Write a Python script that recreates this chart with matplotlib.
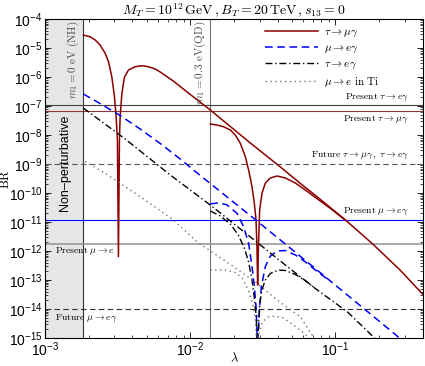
import matplotlib
matplotlib.use('Agg')
import matplotlib.pyplot as plt
from matplotlib.ticker import LogLocator, NullFormatter

plt.rcParams['mathtext.fontset'] = 'cm'
plt.rcParams['font.family'] = ['Liberation Sans', 'DejaVu Sans']

# lambda positions of the two reference lines
lam_nh = 0.00183
lam_qd = 0.01374

# tau -> mu gamma, NH branch (m1 = 0)
lam_tmg1 = [0.001836, 0.002042, 0.002213, 0.002394, 0.002594, 0.002734, 0.002884, 0.003006,
            0.003088, 0.00315, 0.003202, 0.003253, 0.00329, 0.003381, 0.003524, 0.003753,
            0.004176, 0.004645, 0.005158, 0.005736, 0.006211, 0.007634, 0.01, 0.01374,
            0.02593, 0.04176, 0.05736, 0.0788, 0.1173, 0.1828, 0.2805, 0.4046]
br_tmg1 = [2.8e-5, 2.45e-5, 1.9e-5, 1.27e-5, 6.6e-6, 3.4e-6, 1.0e-6, 2.1e-7,
           4.3e-8, 6.7e-9, 6.4e-13, 6.7e-9, 4.3e-8, 2.7e-7, 1.0e-6, 1.74e-6,
           2.27e-6, 2.45e-6, 2.27e-6, 1.89e-6, 1.49e-6, 7.3e-7, 2.5e-7, 7.3e-8,
           5.3e-9, 7.9e-10, 2.13e-10, 6.0e-11, 1.17e-11, 1.65e-12, 2.13e-13, 3.0e-14]

# tau -> mu gamma, QD branch
lam_tmg2 = [0.01374, 0.01528, 0.01697, 0.01888, 0.02043, 0.02212, 0.02395, 0.02523,
            0.02663, 0.02763, 0.02838, 0.02884, 0.02911, 0.02944, 0.03006, 0.03122,
            0.03289, 0.03561, 0.03963, 0.04519, 0.05297, 0.06209, 0.07278, 0.09237, 0.1173]
br_tmg2 = [2.39e-8, 2.21e-8, 1.93e-8, 1.49e-8, 1.0e-8, 5.2e-9, 1.79e-9, 6.2e-10,
           1.65e-10, 4.4e-11, 1.17e-11, 1.08e-12, 6.7e-14, 1.08e-12, 2.6e-11, 1.0e-10,
           2.2e-10, 3.3e-10, 3.86e-10, 3.3e-10, 2.2e-10, 1.27e-10, 7.0e-11, 2.92e-11, 1.15e-11]

# mu -> e gamma
lam_meg1 = [0.001836, 0.002394, 0.00329, 0.00452, 0.006211, 0.008531, 0.01172, 0.01374,
            0.0272, 0.04176, 0.07047, 0.1211, 0.2512, 0.2805]
br_meg1 = [2.6e-7, 1.22e-7, 4.7e-8, 1.61e-8, 5.1e-9, 1.49e-9, 4.0e-10, 2.13e-10,
           1.37e-11, 2.39e-12, 2.81e-13, 3.0e-14, 1.49e-15, 9.3e-16]
lam_meg2 = [0.01374, 0.01567, 0.01791, 0.02099, 0.02331, 0.02523, 0.02663, 0.02763,
            0.02852, 0.02895, 0.02958, 0.03006, 0.03088, 0.03289, 0.03561, 0.03963,
            0.04519, 0.05297, 0.06209, 0.07278, 0.09237]
br_meg2 = [4.2e-11, 4.6e-11, 3.9e-11, 2.0e-11, 6.9e-12, 1.84e-12, 2.9e-13, 5.9e-14,
           9.2e-15, 5e-16, 2.45e-15, 1.2e-14, 5.9e-14, 2.9e-13, 6.7e-13, 1.0e-12,
           1.04e-12, 7.3e-13, 4.2e-13, 2.2e-13, 8.9e-14]

# tau -> e gamma
lam_teg1 = [0.001836, 0.003562, 0.007278, 0.01374, 0.02395, 0.04176, 0.07047, 0.1211,
            0.1799, 0.1919]
br_teg1 = [8.5e-8, 7.3e-9, 4.2e-10, 3.86e-11, 4.2e-12, 4.5e-13, 5.7e-14, 7.9e-15,
           1.17e-15, 8.5e-16]
lam_teg2 = [0.01374, 0.0161, 0.01888, 0.02143, 0.02357, 0.02523, 0.02663, 0.02763,
            0.02852, 0.02895, 0.02958, 0.03006, 0.03112, 0.03289, 0.03561, 0.04046,
            0.04519, 0.05297, 0.06209, 0.07278]
br_teg2 = [2.4e-11, 1.61e-11, 8.5e-12, 3.56e-12, 1.27e-12, 4.2e-13, 1.0e-13, 2.4e-14,
           4.9e-15, 3e-16, 3.56e-15, 1.37e-14, 4.5e-14, 1.0e-13, 1.68e-13, 2.2e-13,
           2.13e-13, 1.55e-13, 9.6e-14, 5.1e-14]

# mu -> e conversion in Ti
lam_mec1 = [0.001888, 0.002594, 0.00452, 0.00767, 0.01112, 0.01989, 0.02884, 0.03963,
            0.05736, 0.07047, 0.0728]
br_mec1 = [1.22e-9, 4.8e-10, 7.5e-11, 1.17e-11, 2.09e-12, 2.88e-13, 7.7e-14, 2.04e-14,
           5.4e-15, 1.08e-15, 8e-16]
lam_mec2 = [0.01374, 0.01743, 0.02043, 0.02284, 0.02512, 0.02677, 0.02807, 0.02895,
            0.02968, 0.03137, 0.03451, 0.03853, 0.04375, 0.05131, 0.0601, 0.06831]
br_mec2 = [2.2e-13, 2.2e-13, 1.81e-13, 1.17e-13, 4.5e-14, 1.61e-14, 4.2e-15, 3e-16,
           1.37e-15, 3.56e-15, 5.3e-15, 5.7e-15, 4.9e-15, 2.81e-15, 1.49e-15, 8.5e-16]

# experimental bounds
bound_teg = 1.1e-7
bound_tmg = 6.8e-8
bound_tau_future = 1e-9
bound_meg = 1.2e-11
bound_mec = 1.7e-12
bound_meg_future = 1e-14

red = '#8b0000'
blue = '#0000ff'

fig = plt.figure(figsize=(4.25, 3.66), dpi=100)
ax = fig.add_axes([0.106, 0.0765, 0.889, 0.8715])
ax.set_xscale('log')
ax.set_yscale('log')
ax.set_xlim(1e-3, 0.4)
ax.set_ylim(1e-15, 1e-4)

ax.axvspan(1e-3, lam_nh, color='0.9', lw=0, zorder=0)
ax.axvline(lam_nh, color='0.2', lw=0.8)
ax.axvline(lam_qd, color='0.45', lw=0.8)

ax.axhline(bound_teg, color='0.25', lw=0.8)
ax.axhline(bound_tmg, color='#8b3a3a', lw=0.8)
ax.axhline(bound_tau_future, color='0.35', lw=0.8, dashes=(5, 3))
ax.axhline(bound_meg, color=blue, lw=0.8)
ax.axhline(bound_mec, color='0.6', lw=1.2)
ax.axhline(bound_meg_future, color='0.2', lw=0.8, dashes=(5, 3))

l1, = ax.plot(lam_tmg1, br_tmg1, color=red, lw=1.1)
ax.plot(lam_tmg2, br_tmg2, color=red, lw=1.1)
l2, = ax.plot(lam_meg1, br_meg1, color=blue, lw=1.1, dashes=(5, 3))
ax.plot(lam_meg2, br_meg2, color=blue, lw=1.1, dashes=(5, 3))
l3, = ax.plot(lam_teg1, br_teg1, color='k', lw=1.0, dashes=(5, 2, 1, 2))
ax.plot(lam_teg2, br_teg2, color='k', lw=1.0, dashes=(5, 2, 1, 2))
l4, = ax.plot(lam_mec1, br_mec1, color='0.45', lw=1.0, dashes=(1, 2.5))
ax.plot(lam_mec2, br_mec2, color='0.45', lw=1.0, dashes=(1, 2.5))

ax.legend([l1, l2, l3, l4],
          [r'$\tau\to\mu\gamma$', r'$\mu\to e\gamma$', r'$\tau\to e\gamma$',
           r'$\mu\to e\ {\rm in\ Ti}$'],
          loc='upper left', bbox_to_anchor=(0.582, 0.975), frameon=False, borderpad=0,
          borderaxespad=0, fontsize=8, handlelength=4.8, labelspacing=0.32,
          handletextpad=0.5)

tfs = 7
yt = ax.get_yaxis_transform()
ax.text(0.963, 1.3e-7, r'${\rm Present}\ \tau\to e\gamma$', transform=yt,
        ha='right', va='bottom', fontsize=tfs)
ax.text(0.963, 5.5e-8, r'${\rm Present}\ \tau\to \mu\gamma$', transform=yt,
        ha='right', va='top', fontsize=tfs)
ax.text(0.963, 1.25e-9, r'${\rm Future}\ \tau\to\mu\gamma\,,\ \tau\to e\gamma$',
        transform=yt, ha='right', va='bottom', fontsize=tfs)
ax.text(0.963, 1.45e-11, r'${\rm Present}\ \mu\to e\gamma$', transform=yt,
        ha='right', va='bottom', fontsize=tfs)
ax.text(0.026, 1.0e-12, r'${\rm Present}\ \mu\to e$', transform=yt,
        ha='left', va='center', fontsize=tfs)
ax.text(0.026, 5.0e-15, r'${\rm Future}\ \mu\to e\gamma$', transform=yt,
        ha='left', va='center', fontsize=tfs)

ax.text(0.00176, 9e-5, r'$m_1 = 0\ {\rm eV\ (NH)}$', rotation=90, ha='right', va='top',
        fontsize=8, color='0.3')
ax.text(0.0132, 9e-5, r'$m_1 = 0.3\ {\rm eV (QD)}$', rotation=90, ha='right', va='top',
        fontsize=8, color='0.3')
ax.text(0.00137, 1.1e-9, 'Non\u2013perturbative', rotation=90, ha='center', va='center',
        fontsize=9)

ax.set_title(r'$M_T = 10^{12}\,{\rm GeV}\,, B_T = 20\,{\rm TeV}\,, s_{13} = 0$',
             fontsize=10, pad=2)
ax.set_xlabel(r'$\lambda$', fontsize=9, labelpad=-5)
ax.set_ylabel(r'${\rm BR}$', fontsize=9)
ax.yaxis.set_label_coords(-0.088, 0.5)

ax.yaxis.set_major_locator(LogLocator(base=10, numticks=20))
ax.yaxis.set_minor_locator(LogLocator(base=10, subs=range(2, 10), numticks=20))
ax.yaxis.set_minor_formatter(NullFormatter())
ax.tick_params(which='both', direction='in', top=True, right=True, labelsize=10, pad=2)
ax.tick_params(which='major', length=4, width=0.6)
ax.tick_params(which='minor', length=2, width=0.5)
for s in ax.spines.values():
    s.set_linewidth(0.8)

fig.savefig('out.png', dpi=100)
